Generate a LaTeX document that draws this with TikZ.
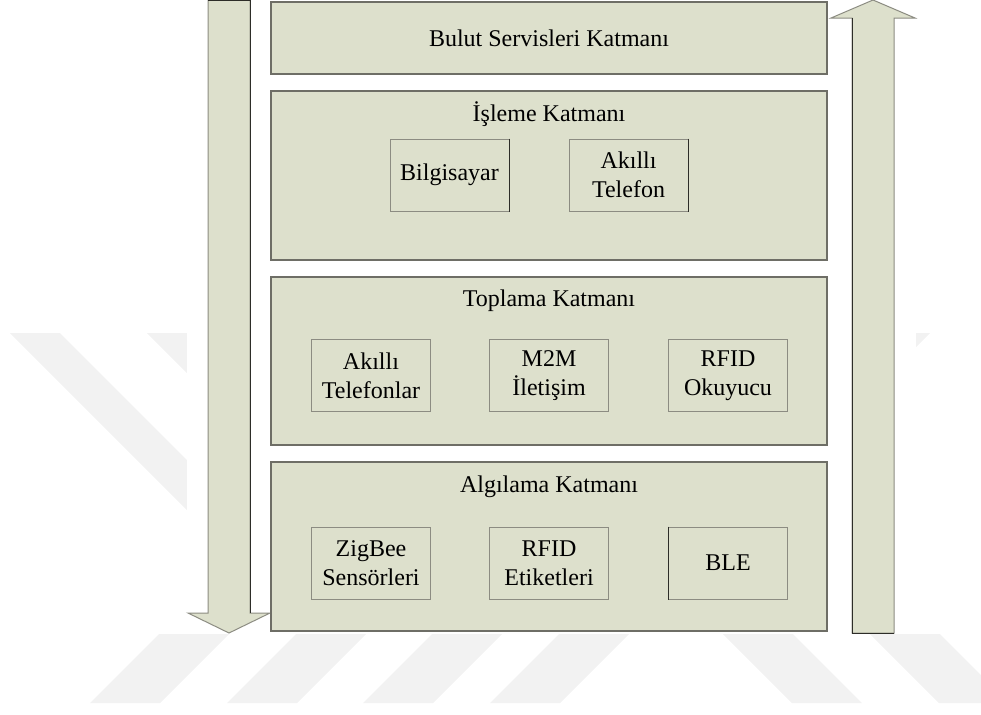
\documentclass[tikz,border=0pt]{standalone}
\usepackage{fontspec}
\setmainfont{Liberation Serif}
\definecolor{layerfill}{RGB}{221,224,204}
\definecolor{layerline}{RGB}{110,110,102}
\definecolor{boxline}{RGB}{140,140,130}
\definecolor{edgedark}{RGB}{45,45,40}
\definecolor{stripe}{RGB}{242,242,242}
\tikzset{
  layer/.style={draw=layerline, fill=layerfill, line width=0.8pt,
    minimum width=278pt, inner sep=0pt},
  device/.style={draw=boxline, fill=layerfill, line width=0.5pt,
    minimum width=59.5pt, minimum height=36pt, inner sep=0pt,
    align=center, font=\fontsize{12}{14.5}\selectfont},
  title/.style={anchor=base, inner sep=0pt, font=\fontsize{12}{14.5}\selectfont},
  flow/.style={draw=boxline, fill=layerfill, line width=0.5pt, line join=miter},
  shade edge/.style={draw=edgedark, line width=0.5pt},
  band/.style={fill=stripe, draw=none},
}
\begin{document}
\begin{tikzpicture}[x=0.5pt, y=-0.5pt]
\useasboundingbox (0,0) rectangle (981,714);

% faint diagonal background bands
\fill[band] (10,333) -- (60,333) -- (361,634) -- (311,634) -- cycle;
\fill[band] (147,333) -- (197,333) -- (300,436) -- (250,436) -- cycle;
\fill[band] (880,333) -- (930,333) -- (870,393) -- (820,393) -- cycle;
\fill[band] (90,703) -- (160,703) -- (229,634) -- (159,634) -- cycle;
\fill[band] (227,703) -- (297,703) -- (366,634) -- (296,634) -- cycle;
\fill[band] (363,703) -- (433,703) -- (502,634) -- (432,634) -- cycle;
\fill[band] (490,703) -- (560,703) -- (629,634) -- (559,634) -- cycle;
\fill[band] (723,634) -- (793,634) -- (862,703) -- (792,703) -- cycle;
\fill[band] (870,634) -- (940,634) -- (1009,703) -- (939,703) -- cycle;
\fill[white] (187,0) rectangle (916,634);

% flow arrows
\draw[flow] (208,0) -- (250,0) -- (250,613) -- (270,613) -- (229,633)
  -- (188,613) -- (208,613) -- cycle;
\draw[shade edge] (208,0.5) -- (250,0.5) -- (250,613);
\draw[flow] (852,633) -- (894,633) -- (894,18) -- (915,18) -- (873,0)
  -- (831,18) -- (852,18) -- cycle;
\draw[shade edge] (852,18) -- (852,633) -- (894,633);

% layers
\node[layer, minimum height=36pt] (bulut) at (549,38) {};
\node[layer, minimum height=84.5pt] (isleme) at (549,175.5) {};
\node[layer, minimum height=84pt] (toplama) at (549,361) {};
\node[layer, minimum height=84.5pt] (algilama) at (549,546.5) {};

\node[title] (tbulut) at (549,46) {Bulut Servisleri Katmanı};
\node[title] (tisleme) at (549,121) {İşleme Katmanı};
\node[title] (ttoplama) at (549,306) {Toplama Katmanı};
\node[title] (talgilama) at (549,492) {Algılama Katmanı};

% devices
\node[device] (pc) at (449.5,175) {Bilgisayar};
\node[device] (phone) at (628.5,175) {Akıllı\\Telefon};

\node[device] (phones) at (371,375.5) {Akıllı\\Telefonlar};
\node[device] (m2m) at (549,375.5) {M2M\\İletişim};
\node[device] (reader) at (728,375.5) {RFID\\Okuyucu};

\node[device] (zigbee) at (371,563) {ZigBee\\Sensörleri};
\node[device] (tags) at (549,563) {RFID\\Etiketleri};
\node[device] (ble) at (728,563) {BLE};

% darker edges on some device boxes
\draw[shade edge] (pc.north east) -- (pc.south east);
\draw[shade edge] (phone.north east) -- (phone.south east);
\draw[shade edge] (ble.north west) -- (ble.south west);
\end{tikzpicture}
\end{document}
